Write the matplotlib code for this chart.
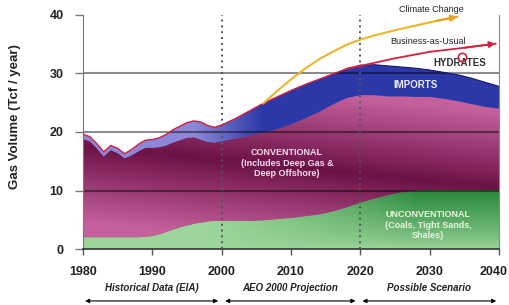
import matplotlib.pyplot as plt
import matplotlib.transforms as mtransforms
import numpy as np
from matplotlib.colors import to_rgb

plt.rcParams['font.family'] = ['Liberation Sans', 'DejaVu Sans']

# values (Tcf / year)
years = np.array([1980, 1981, 1982, 1983, 1984, 1985, 1986, 1987, 1988, 1989,
                  1990, 1991, 1992, 1993, 1994, 1995, 1996, 1997, 1998, 1999,
                  2000, 2002, 2004, 2006, 2008, 2010, 2012, 2014, 2016, 2018,
                  2020, 2022, 2024, 2026, 2028, 2030, 2032, 2034, 2036, 2038, 2040])
total = np.array([19.6, 19.2, 18.0, 16.6, 17.7, 17.2, 16.3, 17.0, 17.9, 18.6,
                  18.7, 19.0, 19.6, 20.4, 21.0, 21.6, 21.9, 21.7, 21.1, 20.8,
                  21.2, 22.3, 23.6, 24.9, 26.0, 27.1, 28.1, 29.0, 29.9, 30.8,
                  31.4, 31.5, 31.3, 31.1, 30.9, 30.6, 30.2, 29.8, 29.2, 28.5, 27.8])
imports = np.array([0.8, 0.8, 0.8, 0.8, 0.8, 0.8, 0.8, 1.0, 1.2, 1.3,
                    1.4, 1.6, 1.9, 2.2, 2.4, 2.6, 2.8, 3.0, 2.8, 2.6,
                    2.8, 3.4, 4.2, 5.0, 5.5, 5.8, 5.8, 5.6, 5.2, 5.0,
                    5.1, 5.2, 5.2, 5.0, 4.9, 4.6, 4.5, 4.5, 4.4, 4.2, 3.8])
unconv = np.array([2.0, 2.0, 2.0, 2.0, 2.0, 2.0, 2.0, 2.0, 2.0, 2.1,
                   2.2, 2.5, 2.9, 3.3, 3.7, 4.0, 4.3, 4.5, 4.7, 4.8,
                   4.8, 4.8, 4.8, 4.9, 5.1, 5.3, 5.6, 5.9, 6.4, 7.1,
                   7.9, 8.6, 9.2, 9.7, 10.0, 10.1, 10.1, 10.1, 10.1, 10.1, 10.1])
conv_top = total - imports

bau_years = [2018, 2020, 2025, 2030, 2035, 2039.5]
bau_vals = [30.8, 31.3, 32.6, 33.7, 34.4, 35.1]
cc_years = [2006, 2008, 2010, 2012, 2014, 2016, 2018, 2020, 2022, 2025, 2028, 2031, 2034]
cc_vals = [24.9, 27.0, 29.0, 30.8, 32.4, 33.7, 34.9, 35.8, 36.5, 37.4, 38.2, 39.0, 39.7]

periods = ["Historical Data (EIA)", "AEO 2000 Projection", "Possible Scenario"]
period_spans = [(1980.3, 1999.5), (2000.5, 2019.3), (2020.3, 2039.6)]

fig = plt.figure(figsize=(5.1, 3.05), dpi=100)
ax = fig.add_axes([83 / 510, 1 - 249 / 305, 416 / 510, 234 / 305])

# gradient images, clipped to the stacked areas
xs = np.linspace(1980, 2040, 400)
ys = np.linspace(0, 40, 300)
X, Y = np.meshgrid(xs, ys)


def lerp(c1, c2, t):
    c1 = np.array(to_rgb(c1))
    c2 = np.array(to_rgb(c2))
    return c1 + (c2 - c1) * t[..., None]


def grad_fill(y1, y2, img, base):
    poly = ax.fill_between(years, y1, y2, facecolor=base, edgecolor='none', lw=0, zorder=0.9)
    im = ax.imshow(img, extent=[1980, 2040, 0, 40], origin='lower', aspect='auto',
                   interpolation='bilinear', zorder=1)
    im.set_clip_path(poly.get_paths()[0], transform=ax.transData)


t_green = np.clip((X - 1998) / 30, 0, 1) * np.clip(Y / 10, 0, 1) ** 0.8
grad_fill(0, unconv, lerp('#9cd69a', '#2a8a3c', t_green), '#6cb86c')

yline = 17 - (X - 1985) * 6 / 50
t_conv = np.clip(np.abs(Y - yline) / 13, 0, 1)
grad_fill(unconv, conv_top, lerp('#6c1246', '#c4609c', t_conv), '#8a2a60')

t_imp = np.clip((X - 1996) / 10, 0, 1)
grad_fill(conv_top, total, lerp('#8c88d8', '#2c38a8', t_imp), '#3a44b0')

# grid lines on top of the areas
for v in [10, 20, 30]:
    ax.axhline(v, color='k', alpha=0.45, lw=1.5, zorder=2)

for xv in [2000, 2020]:
    ax.axvline(xv, color='#555555', ls=(0, (1, 2)), lw=1.4, zorder=3)

# outline of total
hist = years <= 2020
ax.plot(years[hist], total[hist], color='#d42040', lw=1.0, zorder=4)
ax.plot(years[years >= 2020], total[years >= 2020], color='#1a1a6a', lw=0.8, zorder=4)

# scenario lines
ax.plot(bau_years, bau_vals, color='#d42040', lw=1.3, zorder=4, clip_on=False)
ax.annotate('', xy=(bau_years[-1], bau_vals[-1]), xytext=(bau_years[-2], bau_vals[-2]),
            arrowprops=dict(arrowstyle='-|>', color='#d42040', lw=1.3, mutation_scale=9,
                            shrinkA=0, shrinkB=0), annotation_clip=False, zorder=4)
ax.plot(cc_years, cc_vals, color='#eab62a', lw=1.5, zorder=4, clip_on=False)
ax.annotate('', xy=(cc_years[-1], cc_vals[-1]), xytext=(cc_years[-2], cc_vals[-2]),
            arrowprops=dict(arrowstyle='-|>', color='#e8a020', lw=1.5, mutation_scale=9,
                            shrinkA=0, shrinkB=0), annotation_clip=False, zorder=4)

# labels
ax.text(2009.4, 14.7, "CONVENTIONAL\n(Includes Deep Gas &\nDeep Offshore)", ha='center', va='center',
        color='#f6dcea', fontsize=6.5, fontweight='bold', linespacing=1.25, zorder=5)
ax.text(2029.8, 4.1, "UNCONVENTIONAL\n(Coals, Tight Sands,\nShales)", ha='center', va='center',
        color='#e8f4e0', fontsize=6.5, fontweight='bold', linespacing=1.25, zorder=5)
ax.text(2028, 28, "IMPORTS", ha='center', va='center', color='#eeeeff', fontsize=7,
        fontweight='bold', zorder=5)
ax.text(2034.4, 31.8, "HYDRATES", ha='center', va='center', color='#303030', fontsize=7,
        fontweight='bold', zorder=5)
ax.plot(2034.7, 32.8, 'o', mfc='none', mec='#d42040', ms=6, mew=1.2, zorder=5)
ax.text(2029.8, 35.5, "Business-as-Usual", ha='center', va='center', color='#222222',
        fontsize=6.5, zorder=5)
ax.text(2030.2, 40.9, "Climate Change", ha='center', va='center', color='#222222',
        fontsize=6.5, zorder=5, clip_on=False)

trans = mtransforms.blended_transform_factory(ax.transData, ax.transAxes)
for name, (a, b) in zip(periods, period_spans):
    ax.text((a + b) / 2, -0.167, name, transform=trans, ha='center', va='center',
            fontsize=7, fontweight='bold', style='italic', color='#222222')
    ax.annotate('', xy=(b, -0.222), xytext=(a, -0.222), xycoords=trans, textcoords=trans,
                arrowprops=dict(arrowstyle='<|-|>', color='k', lw=0.8, mutation_scale=6,
                                shrinkA=0, shrinkB=0), annotation_clip=False)

ax.set_xlim(1980, 2040)
ax.set_ylim(0, 40)
ax.set_xticks([1980, 1990, 2000, 2010, 2020, 2030, 2040])
ax.set_yticks([0, 10, 20, 30, 40])
ax.tick_params(axis='y', length=6, width=1, color='#777777', pad=8, labelsize=9)
ax.tick_params(axis='x', length=4, width=1, color='#555555', pad=8, labelsize=9)
for lbl in ax.get_xticklabels() + ax.get_yticklabels():
    lbl.set_fontweight('bold')
    lbl.set_color('#222222')

# keep the last year label inside the picture
last = ax.get_xticklabels()[-1]
last.set_transform(last.get_transform() + mtransforms.ScaledTranslation(-5 / 100, 0, fig.dpi_scale_trans))

ax.spines['top'].set_visible(False)
ax.spines['left'].set_color('#777777')
ax.spines['right'].set_color('#888888')
ax.spines['bottom'].set_color('#333333')
ax.spines['bottom'].set_linewidth(1.2)

fig.text(15 / 510, 1 - 117 / 305, "Gas Volume (Tcf / year)", rotation=90, ha='center', va='center',
         fontsize=9.5, fontweight='bold', color='#222222')

fig.savefig('out.png', dpi=100)
